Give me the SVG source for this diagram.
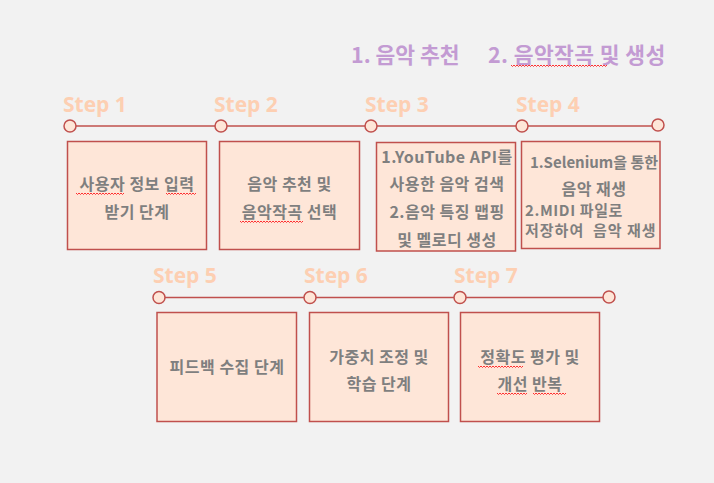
<svg xmlns="http://www.w3.org/2000/svg" width="714" height="483" viewBox="0 0 714 483">
<defs>
<style>
.title{font-family:"Noto Sans CJK KR","Noto Sans",sans-serif;font-weight:bold;font-size:21.5px;fill:#c39bd3}
.step{font-family:"Open Sans","Noto Sans",sans-serif;font-weight:bold;font-size:21px;fill:#fdcfb2}
.box{fill:#fee6d8;stroke:#c0504d;stroke-width:1.5}
.dot{fill:#fee6d8;stroke:#c0504d;stroke-width:1.5}
.line{stroke:#c0504d;stroke-width:1.5;fill:none}
.t{font-family:"Noto Sans CJK KR","Noto Sans",sans-serif;font-weight:bold;font-size:16px;fill:#7f7f7f;letter-spacing:0.5px}
.s{font-family:"Noto Sans CJK KR","Noto Sans",sans-serif;font-weight:bold;font-size:15px;fill:#7f7f7f}
.sq{fill:none;stroke:#ff3030;stroke-width:1}
</style>
</defs>
<rect width="714" height="483" fill="#f2f2f2"/>
<g id="title">
<text class="title" x="351" y="63">1. 음악 추천</text>
<text class="title" x="488" y="63" letter-spacing="0.4">2. 음악작곡 및 생성</text>
</g>
<g id="connectors">
<line class="line" x1="70" y1="126" x2="658" y2="126"/>
<line class="line" x1="159" y1="297.5" x2="609" y2="297.5"/>
</g>
<g id="step1">
<text class="step" x="63" y="112">Step 1</text>
<circle class="dot" cx="70" cy="126" r="6"/>
<rect class="box" x="67.5" y="141.5" width="139" height="108"/>
<text class="t" x="137" y="190" text-anchor="middle">사용자 정보 입력</text>
<text class="t" x="137" y="218" text-anchor="middle">받기 단계</text>
</g>
<g id="step2">
<text class="step" x="214" y="112">Step 2</text>
<circle class="dot" cx="221" cy="126" r="6"/>
<rect class="box" x="219.5" y="141.5" width="140" height="108"/>
<text class="t" x="289.5" y="190" text-anchor="middle">음악 추천 및</text>
<text class="t" x="289.5" y="218" text-anchor="middle">음악작곡 선택</text>
</g>
<g id="step3">
<text class="step" x="365" y="112">Step 3</text>
<circle class="dot" cx="371" cy="126" r="6"/>
<rect class="box" x="376.5" y="142.5" width="139" height="108.5"/>
<text class="t" x="447" y="163" text-anchor="middle">1.YouTube API를</text>
<text class="t" x="447" y="190" text-anchor="middle">사용한 음악 검색</text>
<text class="t" x="447" y="218" text-anchor="middle">2.음악 특징 맵핑</text>
<text class="t" x="447" y="246" text-anchor="middle">및 멜로디 생성</text>
</g>
<g id="step4">
<text class="step" x="516" y="112">Step 4</text>
<circle class="dot" cx="522" cy="126" r="6"/>
<circle class="dot" cx="658" cy="125" r="6"/>
<rect class="box" x="521.5" y="141.5" width="138.5" height="107"/>
<text class="s" x="594" y="168" text-anchor="middle">1.Selenium을 통한</text>
<text class="t" x="594" y="195" text-anchor="middle">음악 재생</text>
<text class="s" x="525" y="216" letter-spacing="0.6">2.MIDI 파일로</text>
<text class="s" x="525" y="236" letter-spacing="1" xml:space="preserve">저장하여  음악 재생</text>
</g>
<g id="step5">
<text class="step" x="153" y="283">Step 5</text>
<circle class="dot" cx="159" cy="297.5" r="6"/>
<rect class="box" x="157" y="312.5" width="139.5" height="109"/>
<text class="t" x="227" y="373" text-anchor="middle">피드백 수집 단계</text>
</g>
<g id="step6">
<text class="step" x="304" y="283">Step 6</text>
<circle class="dot" cx="310" cy="297.5" r="6"/>
<rect class="box" x="309.5" y="312.5" width="139" height="109"/>
<text class="t" x="379" y="363" text-anchor="middle">가중치 조정 및</text>
<text class="t" x="379" y="390" text-anchor="middle">학습 단계</text>
</g>
<g id="step7">
<text class="step" x="454" y="283">Step 7</text>
<circle class="dot" cx="460" cy="297.5" r="6"/>
<circle class="dot" cx="609" cy="297" r="6"/>
<rect class="box" x="460.5" y="312.5" width="139" height="109"/>
<text class="t" x="530" y="363" text-anchor="middle">정확도 평가 및</text>
<text class="t" x="530" y="390" text-anchor="middle">개선 반복</text>
</g>
<g id="spellcheck">
<path class="sq" d="M511 65 l1.5 1.5 l1.5 -1.5 l1.5 1.5 l1.5 -1.5 l1.5 1.5 l1.5 -1.5 l1.5 1.5 l1.5 -1.5 l1.5 1.5 l1.5 -1.5 l1.5 1.5 l1.5 -1.5 l1.5 1.5 l1.5 -1.5 l1.5 1.5 l1.5 -1.5 l1.5 1.5 l1.5 -1.5 l1.5 1.5 l1.5 -1.5 l1.5 1.5 l1.5 -1.5 l1.5 1.5 l1.5 -1.5 l1.5 1.5 l1.5 -1.5 l1.5 1.5 l1.5 -1.5 l1.5 1.5 l1.5 -1.5 l1.5 1.5 l1.5 -1.5 l1.5 1.5 l1.5 -1.5 l1.5 1.5 l1.5 -1.5 l1.5 1.5 l1.5 -1.5 l1.5 1.5 l1.5 -1.5 l1.5 1.5 l1.5 -1.5 l1.5 1.5 l1.5 -1.5 l1.5 1.5 l1.5 -1.5 l1.5 1.5 l1.5 -1.5 l1.5 1.5 l1.5 -1.5 l1.5 1.5 l1.5 -1.5 l1.5 1.5 l1.5 -1.5 l1.5 1.5 l1.5 -1.5 l1.5 1.5 l1.5 -1.5 l1.5 1.5 l1.5 -1.5 l1.5 1.5 l1.5 -1.5 l1.5 1.5 l1.5 -1.5"/>
<path class="sq" d="M76 193 l1.5 1.5 l1.5 -1.5 l1.5 1.5 l1.5 -1.5 l1.5 1.5 l1.5 -1.5 l1.5 1.5 l1.5 -1.5 l1.5 1.5 l1.5 -1.5 l1.5 1.5 l1.5 -1.5 l1.5 1.5 l1.5 -1.5 l1.5 1.5 l1.5 -1.5 l1.5 1.5 l1.5 -1.5 l1.5 1.5 l1.5 -1.5 l1.5 1.5 l1.5 -1.5 l1.5 1.5 l1.5 -1.5 l1.5 1.5 l1.5 -1.5 l1.5 1.5 l1.5 -1.5 l1.5 1.5 l1.5 -1.5 l1.5 1.5 l1.5 -1.5"/>
<path class="sq" d="M166 193 l1.5 1.5 l1.5 -1.5 l1.5 1.5 l1.5 -1.5 l1.5 1.5 l1.5 -1.5 l1.5 1.5 l1.5 -1.5 l1.5 1.5 l1.5 -1.5 l1.5 1.5 l1.5 -1.5 l1.5 1.5 l1.5 -1.5 l1.5 1.5 l1.5 -1.5 l1.5 1.5 l1.5 -1.5 l1.5 1.5 l1.5 -1.5"/>
<path class="sq" d="M240 221 l1.5 1.5 l1.5 -1.5 l1.5 1.5 l1.5 -1.5 l1.5 1.5 l1.5 -1.5 l1.5 1.5 l1.5 -1.5 l1.5 1.5 l1.5 -1.5 l1.5 1.5 l1.5 -1.5 l1.5 1.5 l1.5 -1.5 l1.5 1.5 l1.5 -1.5 l1.5 1.5 l1.5 -1.5 l1.5 1.5 l1.5 -1.5 l1.5 1.5 l1.5 -1.5 l1.5 1.5 l1.5 -1.5 l1.5 1.5 l1.5 -1.5 l1.5 1.5 l1.5 -1.5 l1.5 1.5 l1.5 -1.5 l1.5 1.5 l1.5 -1.5 l1.5 1.5 l1.5 -1.5 l1.5 1.5 l1.5 -1.5 l1.5 1.5 l1.5 -1.5 l1.5 1.5 l1.5 -1.5 l1.5 1.5 l1.5 -1.5"/>
<path class="sq" d="M478 366 l1.5 1.5 l1.5 -1.5 l1.5 1.5 l1.5 -1.5 l1.5 1.5 l1.5 -1.5 l1.5 1.5 l1.5 -1.5 l1.5 1.5 l1.5 -1.5 l1.5 1.5 l1.5 -1.5 l1.5 1.5 l1.5 -1.5 l1.5 1.5 l1.5 -1.5 l1.5 1.5 l1.5 -1.5 l1.5 1.5 l1.5 -1.5 l1.5 1.5 l1.5 -1.5 l1.5 1.5 l1.5 -1.5 l1.5 1.5 l1.5 -1.5 l1.5 1.5 l1.5 -1.5 l1.5 1.5 l1.5 -1.5"/>
<path class="sq" d="M497 393 l1.5 1.5 l1.5 -1.5 l1.5 1.5 l1.5 -1.5 l1.5 1.5 l1.5 -1.5 l1.5 1.5 l1.5 -1.5 l1.5 1.5 l1.5 -1.5 l1.5 1.5 l1.5 -1.5 l1.5 1.5 l1.5 -1.5 l1.5 1.5 l1.5 -1.5 l1.5 1.5 l1.5 -1.5 l1.5 1.5 l1.5 -1.5"/>
<path class="sq" d="M533 393 l1.5 1.5 l1.5 -1.5 l1.5 1.5 l1.5 -1.5 l1.5 1.5 l1.5 -1.5 l1.5 1.5 l1.5 -1.5 l1.5 1.5 l1.5 -1.5 l1.5 1.5 l1.5 -1.5 l1.5 1.5 l1.5 -1.5 l1.5 1.5 l1.5 -1.5 l1.5 1.5 l1.5 -1.5 l1.5 1.5 l1.5 -1.5 l1.5 1.5 l1.5 -1.5"/>
</g>
</svg>
